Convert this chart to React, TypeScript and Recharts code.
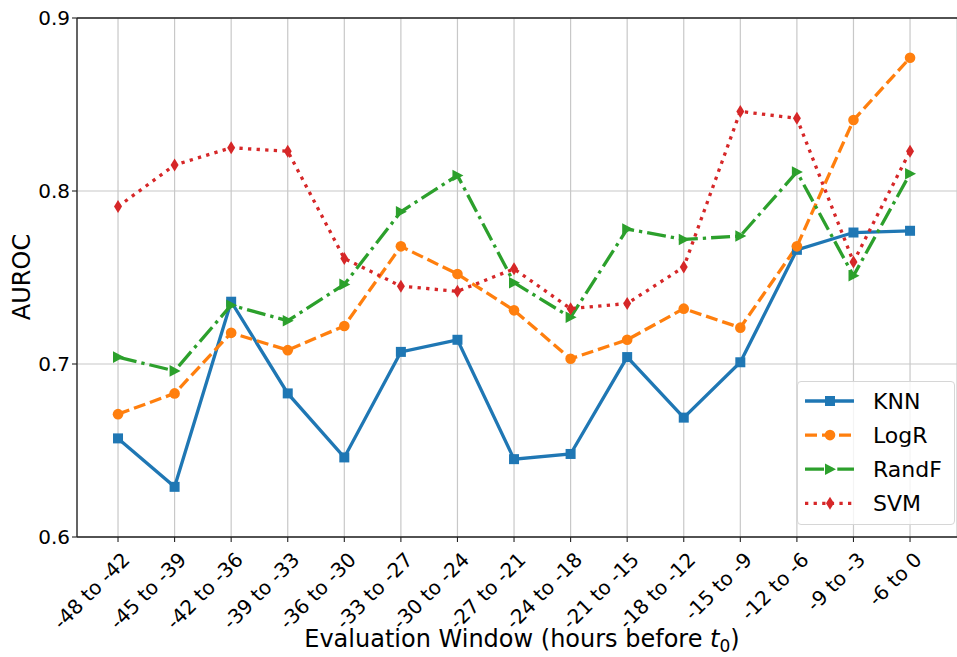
import React from "react";
import { LineChart, Line, XAxis, YAxis, CartesianGrid, ReferenceLine, Legend } from "recharts";

const windows = [
  "-48 to -42", "-45 to -39", "-42 to -36", "-39 to -33", "-36 to -30",
  "-33 to -27", "-30 to -24", "-27 to -21", "-24 to -18", "-21 to -15",
  "-18 to -12", "-15 to -9", "-12 to -6", "-9 to -3", "-6 to 0",
];
const knn = [0.657, 0.629, 0.736, 0.683, 0.646, 0.707, 0.714, 0.645, 0.648, 0.704, 0.669, 0.701, 0.766, 0.776, 0.777];
const logr = [0.671, 0.683, 0.718, 0.708, 0.722, 0.768, 0.752, 0.731, 0.703, 0.714, 0.732, 0.721, 0.768, 0.841, 0.877];
const randf = [0.704, 0.696, 0.734, 0.725, 0.746, 0.788, 0.809, 0.747, 0.727, 0.778, 0.772, 0.774, 0.811, 0.751, 0.810];
const svm = [0.791, 0.815, 0.825, 0.823, 0.761, 0.745, 0.742, 0.755, 0.732, 0.735, 0.756, 0.846, 0.842, 0.759, 0.823];
const yTicks = [0.6, 0.7, 0.8, 0.9];

const rows = windows.map((w, i) => ({
  i,
  w,
  knn: knn[i],
  logr: logr[i],
  randf: randf[i],
  svm: svm[i],
}));
const xTicks = windows.map((_, i) => i);

const FONT = "'DejaVu Sans', sans-serif";
const LW = 3.3;

type Shape = "square" | "circle" | "tri" | "diamond";

const series: { key: string; name: string; color: string; dash?: string; shape: Shape }[] = [
  { key: "knn", name: "KNN", color: "#1f77b4", shape: "square" },
  { key: "logr", name: "LogR", color: "#ff7f0e", dash: "12 5", shape: "circle" },
  { key: "randf", name: "RandF", color: "#2ca02c", dash: "19 5 3.3 5", shape: "tri" },
  { key: "svm", name: "SVM", color: "#d62728", dash: "3.3 5.3", shape: "diamond" },
];

function Marker({ shape, cx, cy, color }: { shape: Shape; cx: number; cy: number; color: string }) {
  if (shape === "square")
    return <rect x={cx - 5} y={cy - 5} width={10} height={10} fill={color} />;
  if (shape === "circle") return <circle cx={cx} cy={cy} r={5.3} fill={color} />;
  if (shape === "tri")
    return <path d={`M${cx + 6},${cy} L${cx - 5},${cy - 5.8} L${cx - 5},${cy + 5.8} Z`} fill={color} />;
  return <path d={`M${cx},${cy - 6.5} L${cx + 4},${cy} L${cx},${cy + 6.5} L${cx - 4},${cy} Z`} fill={color} />;
}

function XTick(props: any) {
  const { x, y, payload } = props;
  const ax = x + 13;
  const ay = y + 17;
  return (
    <text
      x={ax}
      y={ay}
      textAnchor="end"
      fontSize={20}
      fontFamily={FONT}
      fill="#000"
      transform={`rotate(-45 ${ax} ${ay})`}
    >
      {windows[payload.value]}
    </text>
  );
}

function LegendBox() {
  return (
    <div
      style={{
        width: 158,
        height: 144,
        boxSizing: "border-box",
        border: "1px solid #d6d6d6",
        borderRadius: 4,
        background: "rgba(255,255,255,0.8)",
      }}
    >
      <svg width={156} height={142} style={{ display: "block" }}>
        {series.map((s, k) => {
          const cy = 19 + k * 34.1;
          return (
            <g key={s.key}>
              <line x1={7} x2={56} y1={cy} y2={cy} stroke={s.color} strokeWidth={LW} strokeDasharray={s.dash} />
              <Marker shape={s.shape} cx={32} cy={cy} color={s.color} />
              <text x={75} y={cy} dominantBaseline="central" fontSize={22} fontFamily={FONT} fill="#000">
                {s.name}
              </text>
            </g>
          );
        })}
      </svg>
    </div>
  );
}

export default function App() {
  return (
    <div style={{ position: "absolute", left: 0, top: 0, background: "#fff" }}>
      <LineChart width={957} height={657} data={rows} margin={{ top: 18, right: 0, bottom: 0, left: 0 }}>
        <CartesianGrid stroke="#c8c8c8" strokeWidth={1.2} />
        <XAxis
          type="number"
          dataKey="i"
          domain={[-0.725, 14.83]}
          ticks={xTicks}
          interval={0}
          allowDataOverflow
          height={120}
          tickSize={5}
          axisLine={{ stroke: "#222", strokeWidth: 1.3 }}
          tickLine={{ stroke: "#222", strokeWidth: 1.1 }}
          tick={<XTick />}
          label={{
            content: () => (
              <text x={522} y={647} textAnchor="middle" fontSize={24} fontFamily={FONT} fill="#000">
                Evaluation Window (hours before <tspan fontStyle="italic">t</tspan>
                <tspan dy={5} fontSize={17}>0</tspan>
                <tspan dy={-5}>)</tspan>
              </text>
            ),
          }}
        />
        <YAxis
          type="number"
          domain={[0.6, 0.9]}
          ticks={yTicks}
          width={77}
          tickSize={5}
          axisLine={{ stroke: "#222", strokeWidth: 1.3 }}
          tickLine={{ stroke: "#222", strokeWidth: 1.1 }}
          tick={{ fontSize: 20, fontFamily: FONT, fill: "#000" }}
          tickFormatter={(v: number) => v.toFixed(1)}
          label={{
            content: () => (
              <text
                x={22}
                y={277}
                textAnchor="middle"
                dominantBaseline="central"
                fontSize={24}
                fontFamily={FONT}
                fill="#000"
                transform="rotate(-90 22 277)"
              >
                AUROC
              </text>
            ),
          }}
        />
        <ReferenceLine y={0.9} stroke="#222" strokeWidth={1.3} />
        {series.map((s) => (
          <Line
            key={s.key}
            dataKey={s.key}
            name={s.name}
            stroke={s.color}
            strokeWidth={LW}
            strokeDasharray={s.dash}
            isAnimationActive={false}
            dot={(p: any) => <Marker key={`${s.key}-${p.index}`} shape={s.shape} cx={p.cx} cy={p.cy} color={s.color} />}
            activeDot={false}
          />
        ))}
        <Legend
          verticalAlign="middle"
          layout="horizontal"
          content={() => <LegendBox />}
          wrapperStyle={{ left: 797, top: 381, width: 158, height: 144 }}
        />
      </LineChart>
    </div>
  );
}
